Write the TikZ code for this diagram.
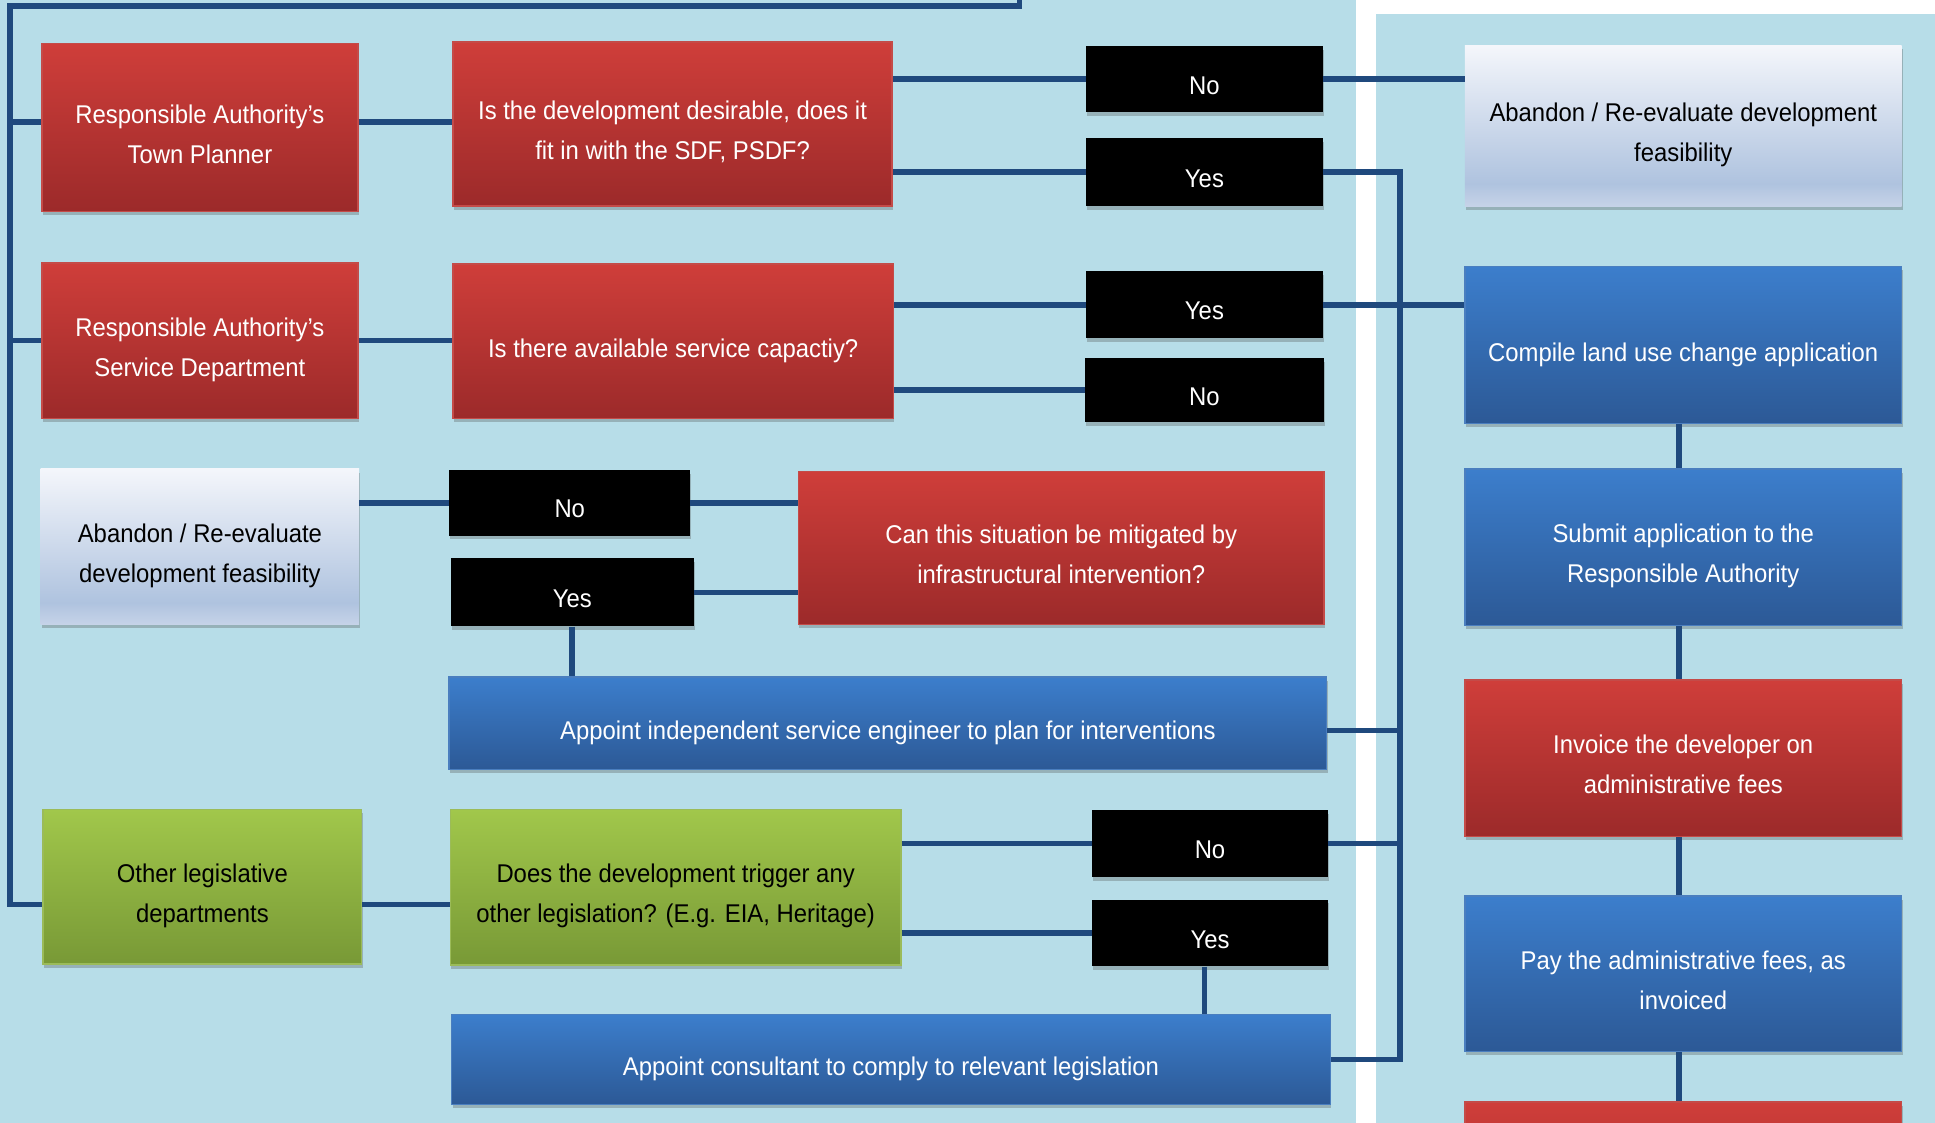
\documentclass[tikz,border=0pt]{standalone}
\usepackage{fontspec}
\setmainfont{Liberation Sans}[FakeStretch=0.93]
\usetikzlibrary{shadows}

\definecolor{bgblue}{HTML}{B7DDE8}
\definecolor{linkblue}{HTML}{1F497D}
\definecolor{redtop}{HTML}{CF3E3A}
\definecolor{redbot}{HTML}{9C2A2A}
\definecolor{redline}{HTML}{C44B48}
\definecolor{bluetop}{HTML}{3C7ECC}
\definecolor{bluebot}{HTML}{2C5996}
\definecolor{blueline}{HTML}{4A7EBF}
\definecolor{greentop}{HTML}{A1C74B}
\definecolor{greenbot}{HTML}{789936}
\definecolor{greenline}{HTML}{9BBB59}
\definecolor{paletop}{HTML}{F4F6FB}
\definecolor{palemid}{HTML}{AFC3DF}
\definecolor{palebot}{HTML}{C6D3E8}

\pgfdeclareverticalshading{paleshade}{100bp}{%
  color(0bp)=(palebot); color(25bp)=(palebot); color(32bp)=(palemid);
  color(75bp)=(paletop); color(100bp)=(paletop)}

\tikzset{
  box/.style={rectangle, inner sep=0pt, align=center,
    font=\fontsize{20.8pt}{32.4pt}\selectfont,
    text height=28.4pt, text depth=2pt,
    drop shadow={shadow xshift=0.8pt, shadow yshift=-3pt, opacity=0.3, fill=black!70}},
  two lines/.style={text height=59.6pt, text depth=2pt},
  red box/.style={box, top color=redtop, bottom color=redbot, draw=redline, line width=1.2pt, text=white},
  blue box/.style={box, top color=bluetop, bottom color=bluebot, draw=blueline, line width=1.2pt, text=white},
  green box/.style={box, top color=greentop, bottom color=greenbot, draw=greenline, line width=1.2pt, text=black},
  pale box/.style={box, shading=paleshade, text=black},
  answer/.style={box, fill=black, text=white, text height=26.4pt},
  link/.style={draw=linkblue, line width=4.6pt},
}

\begin{document}
\begin{tikzpicture}[x=1pt, y=-1pt]
    \useasboundingbox (0,0) rectangle (1568,910);
    \clip (0,0) rectangle (1568,910);
    \fill [white] (0,0) rectangle (1568,910);
    \fill [bgblue] (0,0) rectangle (1099,910);
    \fill [bgblue] (1115,11) rectangle (1568,910);

    % left column
    \node [red box, two lines, minimum width=256, minimum height=136] (TP) at (162,103.3) {Responsible Authority’s\\Town Planner};
    \node [red box, two lines, minimum width=256, minimum height=126] (SD) at (162,276) {Responsible Authority’s\\Service Department};
    \node [pale box, two lines, minimum width=258, minimum height=126] (AL) at (162,443) {Abandon / Re-evaluate\\development feasibility};
    \node [green box, two lines, minimum width=258, minimum height=125] (OL) at (164,718.5) {Other legislative\\departments};

    % middle column
    \node [red box, two lines, minimum width=356, minimum height=133] (Q1) at (545,100.5) {Is the development desirable, does it\\fit in with the SDF, PSDF?};
    \node [red box, minimum width=357, minimum height=125] (Q2) at (545.5,276.5) {Is there available service capactiy?};
    \node [answer, minimum width=195, minimum height=53] (N3) at (461.7,407.5) {No};
    \node [answer, minimum width=197, minimum height=55] (Y3) at (463.7,480) {Yes};
    \node [red box, two lines, minimum width=426, minimum height=124] (Q3) at (860,444) {Can this situation be mitigated by\\infrastructural intervention?};
    \node [blue box, minimum width=711, minimum height=75] (AE) at (719.5,586) {Appoint independent service engineer to plan for interventions};
    \node [green box, two lines, minimum width=365, minimum height=126] (Q4) at (547.5,719) {Does the development trigger any\\other legislation? (E.g. EIA, Heritage)};
    \node [blue box, minimum width=712, minimum height=73] (AC) at (722,858.5) {Appoint consultant to comply to relevant legislation};

    % answers
    \node [answer, minimum width=192, minimum height=53.5] (N1) at (976,64) {No};
    \node [answer, minimum width=192, minimum height=55] (Y1) at (976,139.5) {Yes};
    \node [answer, minimum width=192, minimum height=54] (Y2) at (976,247) {Yes};
    \node [answer, minimum width=194, minimum height=52] (N2) at (976,316) {No};
    \node [answer, minimum width=191, minimum height=54] (N4) at (980.5,683.5) {No};
    \node [answer, minimum width=191, minimum height=54] (Y4) at (980.5,756) {Yes};

    % right column
    \node [pale box, two lines, minimum width=354, minimum height=130] (AR) at (1364,102) {Abandon / Re-evaluate development\\feasibility};
    \node [blue box, minimum width=354, minimum height=127] (CL) at (1364,279.5) {Compile land use change application};
    \node [blue box, two lines, minimum width=354, minimum height=127] (SA) at (1364,443.5) {Submit application to the\\Responsible Authority};
    \node [red box, two lines, minimum width=354, minimum height=127] (IV) at (1364,614.5) {Invoice the developer on\\administrative fees};
    \node [blue box, two lines, minimum width=354, minimum height=126] (PF) at (1364,789) {Pay the administrative fees, as\\invoiced};
    \node [red box, minimum width=354, minimum height=127] (RX) at (1364,956.5) {};

    % helper points
    \coordinate (TOP) at (826,-10);
    \coordinate (LBUS) at (8,5);
    \coordinate (RBUS) at (1134.5,0);
    \coordinate (TPw) at ([yshift=4.5pt]TP.west);
    \coordinate (TPe) at ([yshift=4.5pt]TP.east);
    \coordinate (OLw) at ([yshift=-14.5pt]OL.west);
    \coordinate (OLe) at ([yshift=-14.5pt]OL.east);
    \coordinate (AEe) at ([yshift=-6pt]AE.east);
    \coordinate (Y4s) at ([xshift=-4.5pt]Y4.south);

    % buses
    \draw [link] (TOP) |- (LBUS) |- (OLw);
    \draw [link] (Y1.east) -| (RBUS |- AC.east) -- (AC.east);

    \path [link] (TPw -| LBUS) edge (TPw);
    \path [link] (SD.west -| LBUS) edge (SD.west);
    \path [link] (TPe) edge (TPe -| Q1.west);
    \path [link] (SD.east) edge (SD.east -| Q2.west);
    \path [link] (OLe) edge (OLe -| Q4.west);

    \path [link] (N1.west -| Q1.east) edge (N1.west);
    \path [link] (Y1.west -| Q1.east) edge (Y1.west);
    \path [link] (N1.east) edge (N1.east -| AR.west);
    \path [link] (Y2.west -| Q2.east) edge (Y2.west);
    \path [link] (N2.west -| Q2.east) edge (N2.west);
    \path [link] (Y2.east) edge (Y2.east -| CL.west);

    \path [link] (N3.west -| AL.east) edge (N3.west);
    \path [link] (N3.east) edge (N3.east -| Q3.west);
    \path [link] (Y3.east) edge (Y3.east -| Q3.west);
    \path [link] (Y3.south) edge (Y3.south |- AE.north);
    \path [link] (AEe) edge (AEe -| RBUS);

    \path [link] (N4.west -| Q4.east) edge (N4.west);
    \path [link] (Y4.west -| Q4.east) edge (Y4.west);
    \path [link] (N4.east) edge (N4.east -| RBUS);
    \path [link] (Y4s) edge (Y4s |- AC.north);

    \path [link] ([xshift=-3.5pt]CL.south) edge ([xshift=-3.5pt]SA.north);
    \path [link] ([xshift=-3.5pt]SA.south) edge ([xshift=-3.5pt]IV.north);
    \path [link] ([xshift=-3.5pt]IV.south) edge ([xshift=-3.5pt]PF.north);
    \path [link] ([xshift=-3.5pt]PF.south) edge ([xshift=-3.5pt]RX.north);
\end{tikzpicture}
\end{document}
